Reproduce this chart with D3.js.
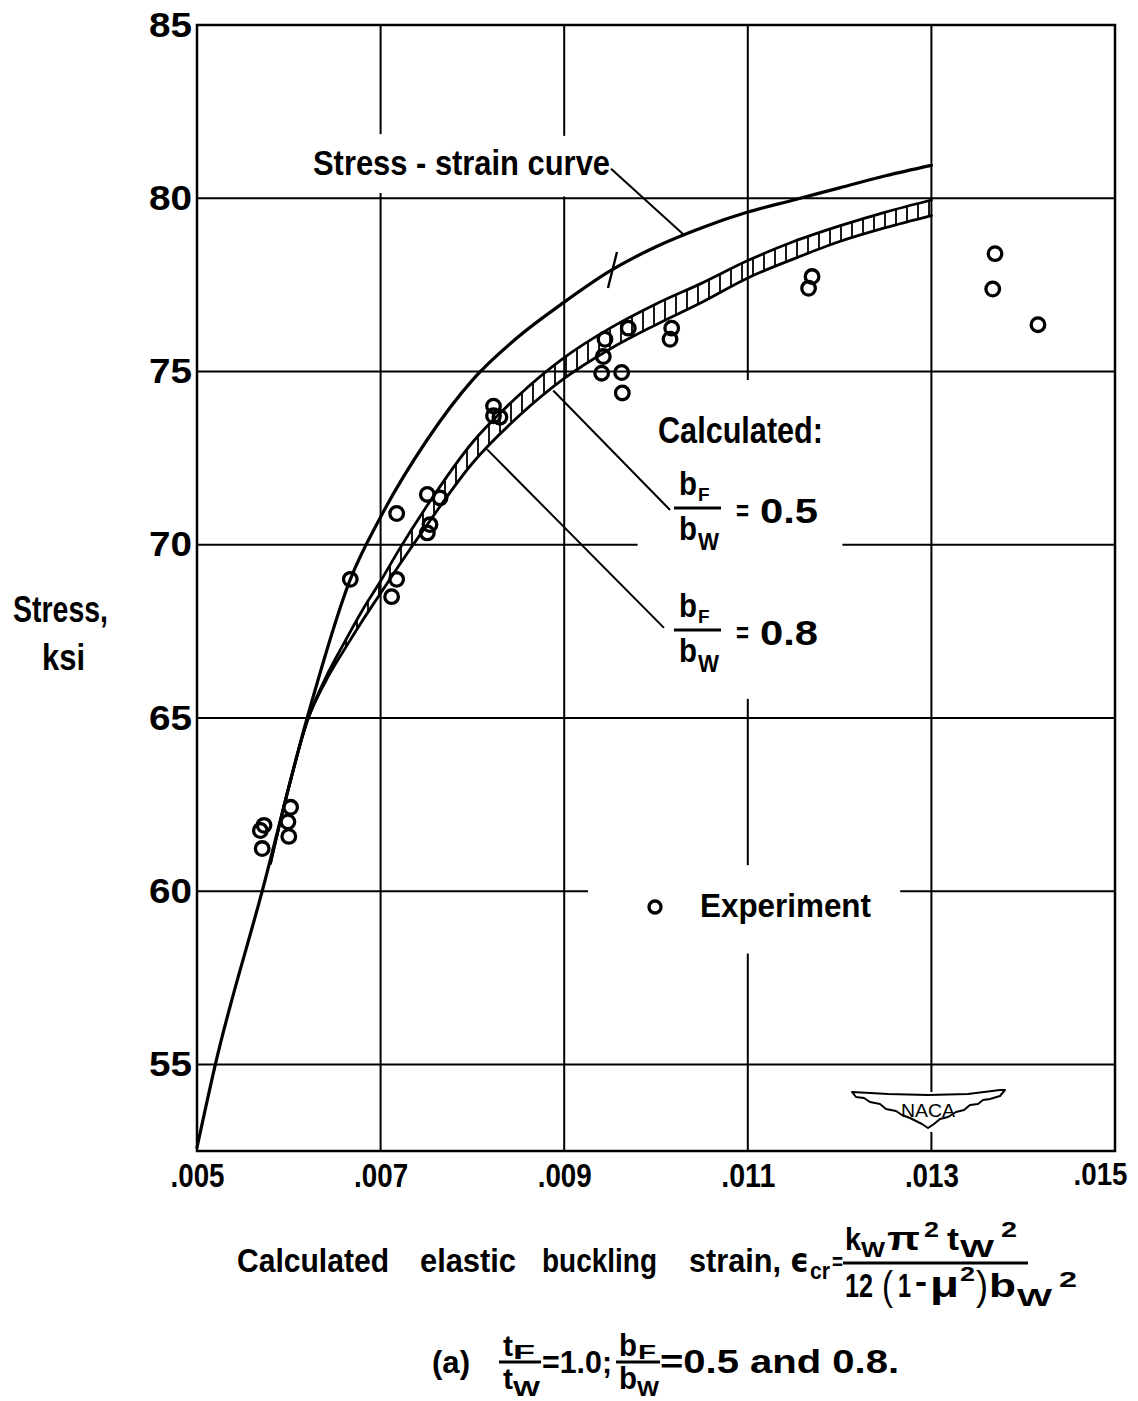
<!DOCTYPE html>
<html>
<head>
<meta charset="utf-8">
<script src="https://cdn.jsdelivr.net/npm/d3@7"></script>
<style>
  body { margin: 0; background: #fff; }
  svg { display: block; font-family: "Liberation Sans", Arial, sans-serif; }
</style>
</head>
<body>
<svg id="chart" width="1138" height="1401"></svg>
<script>
// ---- data (strain, stress in ksi) ----
const xTicks = [0.005, 0.007, 0.009, 0.011, 0.013, 0.015];
const xTickLabels = [".005", ".007", ".009", ".011", ".013", ".015"];
const yTicks = [55, 60, 65, 70, 75, 80, 85];

const ssStrain = [0.0050, 0.0052, 0.00571, 0.0062, 0.00667, 0.0070, 0.0075, 0.0080, 0.0085, 0.0090,
                  0.0095, 0.0100, 0.0105, 0.0110, 0.0115, 0.0120, 0.0125, 0.0130];
const ssStress = [52.6, 55.0, 60.0, 65.0, 69.0, 70.8, 73.0, 74.75, 76.0, 77.0,
                  77.9, 78.6, 79.15, 79.6, 79.95, 80.3, 80.65, 80.95];

// calculated curves, bF/bW = 0.5 and 0.8 (hatched band between them)
const calcStrain = [0.0058, 0.0060, 0.0062, 0.0064, 0.0066, 0.0068, 0.0070, 0.0072, 0.0075, 0.0080,
                    0.0085, 0.0090, 0.0095, 0.0100, 0.0105, 0.0110, 0.0115, 0.0120, 0.0125, 0.0130];
const calcUpper = [60.8, 63.0, 64.9, 66.15, 67.15, 68.1, 68.95, 69.85, 71.1, 72.95,
                   74.3, 75.4, 76.25, 76.95, 77.55, 78.2, 78.75, 79.2, 79.6, 79.95];
const calcLower = [60.8, 63.0, 64.9, 66.05, 66.95, 67.8, 68.6, 69.4, 70.55, 72.35,
                   73.7, 74.8, 75.65, 76.35, 77.0, 77.7, 78.25, 78.75, 79.15, 79.5];

const expStrain = [0.00569, 0.00573, 0.00571, 0.00602, 0.00599, 0.00600,
                   0.00667, 0.007175, 0.007175, 0.00712, 0.007509, 0.007647, 0.007538, 0.007509,
                   0.00823, 0.00823, 0.00830,
                   0.009444, 0.009698, 0.009426, 0.009408, 0.009626, 0.009633, 0.010171, 0.010153,
                   0.01170, 0.011662, 0.013693, 0.013668, 0.014161];
const expStress = [61.75, 61.9, 61.23, 62.42, 62.0, 61.58,
                   69.0, 70.9, 69.0, 68.5, 71.45, 71.35, 70.58, 70.34,
                   74.0, 73.72, 73.68,
                   75.93, 76.25, 75.43, 74.95, 74.97, 74.38, 76.25, 75.93,
                   77.74, 77.4, 78.4, 77.38, 76.35];

// annotation anchors (strain, stress)
const ssLeader = [[0.00951, 80.85], [0.0103, 78.95]];
const leader05 = [[0.010153, 71.0], [0.00888, 74.45]];
const leader08 = [[0.010087, 67.6], [0.00816, 72.75]];
const ssTick = [0.009526, 77.93];

// ---- layout ----
const W = 1138, H = 1401;
const margin = {left: 197, right: 23, top: 25, bottom: 250};
const svg = d3.select("#chart");

const x = d3.scaleLinear().domain([0.005, 0.015]).range([margin.left, W - margin.right]);
const y = d3.scaleLinear().domain([52.5, 85]).range([H - margin.bottom, margin.top]);

// grid lines with the gaps left for lettering (in data units)
const vGrid = [
  {v: 0.007, gaps: [[80.15, 81.85]]},
  {v: 0.009, gaps: [[80.05, 81.8]]},
  {v: 0.011, gaps: [[58.2, 60.75], [65.55, 74.75]]},
  {v: 0.013, gaps: [[53.05, 54.2]]}
];
const hGrid = [
  {v: 55, gaps: []},
  {v: 60, gaps: [[0.00926, 0.01266]]},
  {v: 65, gaps: []},
  {v: 70, gaps: [[0.0098, 0.01203]]},
  {v: 75, gaps: []},
  {v: 80, gaps: []}
];

function segments(lo, hi, gaps) {
  const out = [];
  let cur = lo;
  gaps.forEach(g => { out.push([cur, g[0]]); cur = g[1]; });
  out.push([cur, hi]);
  return out;
}

const grid = svg.append("g").attr("stroke", "#000").attr("stroke-width", 2);
vGrid.forEach(l => {
  segments(52.5, 85, l.gaps).forEach(s => {
    grid.append("line").attr("x1", x(l.v)).attr("x2", x(l.v)).attr("y1", y(s[0])).attr("y2", y(s[1]));
  });
});
hGrid.forEach(l => {
  segments(0.005, 0.015, l.gaps).forEach(s => {
    grid.append("line").attr("y1", y(l.v)).attr("y2", y(l.v)).attr("x1", x(s[0])).attr("x2", x(s[1]));
  });
});

// frame
svg.append("rect")
  .attr("x", x(0.005)).attr("y", y(85))
  .attr("width", x(0.015) - x(0.005)).attr("height", y(52.5) - y(85))
  .attr("fill", "none").attr("stroke", "#000").attr("stroke-width", 2.5);

// axes (labels only)
const lastX = xTicks.length - 1;
const xAxis = svg.append("g")
  .attr("transform", `translate(0,${y(52.5)})`)
  .call(d3.axisBottom(x).tickValues(xTicks).tickSize(0).tickPadding(12)
    .tickFormat((d, i) => xTickLabels[i]));
xAxis.select(".domain").remove();
xAxis.selectAll("text")
  .attr("font-size", (d, i) => i === lastX ? 31 : 34)
  .attr("font-weight", "bold").attr("fill", "#000")
  .attr("font-family", "Liberation Sans, Arial, sans-serif")
  .attr("textLength", 54).attr("lengthAdjust", "spacingAndGlyphs")
  .attr("dx", (d, i) => i === lastX ? -15 : 0);

const yAxis = svg.append("g")
  .attr("transform", `translate(${x(0.005)},0)`)
  .call(d3.axisLeft(y).tickValues(yTicks).tickSize(0).tickPadding(5));
yAxis.select(".domain").remove();
yAxis.selectAll("text").attr("font-size", 35).attr("font-weight", "bold").attr("fill", "#000")
  .attr("font-family", "Liberation Sans, Arial, sans-serif")
  .attr("textLength", 43).attr("lengthAdjust", "spacingAndGlyphs");

// hatch pattern for the band
svg.append("defs").append("pattern")
  .attr("id", "hatch").attr("patternUnits", "userSpaceOnUse")
  .attr("width", 11).attr("height", 11)
  .append("line").attr("x1", 5).attr("x2", 5).attr("y1", 0).attr("y2", 11)
  .attr("stroke", "#000").attr("stroke-width", 1.8);

const band = calcStrain.map((e, i) => ({e, up: calcUpper[i], lo: calcLower[i]}));
svg.append("path").datum(band)
  .attr("fill", "url(#hatch)")
  .attr("d", d3.area().curve(d3.curveMonotoneX)
    .x(d => x(d.e)).y0(d => y(d.lo)).y1(d => y(d.up)));

const line = d3.line().curve(d3.curveMonotoneX).x(d => x(d[0])).y(d => y(d[1]));
const curves = svg.append("g").attr("fill", "none").attr("stroke", "#000").attr("stroke-linecap", "round");
curves.append("path").attr("d", line(ssStrain.map((e, i) => [e, ssStress[i]]))).attr("stroke-width", 3.2);
curves.append("path").attr("d", line(calcStrain.map((e, i) => [e, calcUpper[i]]))).attr("stroke-width", 2.8);
curves.append("path").attr("d", line(calcStrain.map((e, i) => [e, calcLower[i]]))).attr("stroke-width", 2.8);

// leaders and the small tick on the stress-strain curve
const leaders = svg.append("g").attr("stroke", "#000").attr("stroke-width", 2);
[ssLeader, leader05, leader08].forEach(l => {
  leaders.append("line")
    .attr("x1", x(l[0][0])).attr("y1", y(l[0][1]))
    .attr("x2", x(l[1][0])).attr("y2", y(l[1][1]));
});
leaders.append("line")
  .attr("x1", x(ssTick[0]) - 4.5).attr("y1", y(ssTick[1]) + 18)
  .attr("x2", x(ssTick[0]) + 4.5).attr("y2", y(ssTick[1]) - 18)
  .attr("stroke-width", 2.4);

// experiment points
svg.append("g").selectAll("circle")
  .data(expStrain.map((e, i) => [e, expStress[i]]))
  .join("circle")
  .attr("cx", d => x(d[0])).attr("cy", d => y(d[1]))
  .attr("r", 6.8)
  .attr("fill", "none").attr("stroke", "#000").attr("stroke-width", 3.3);

// ---- lettering ----
function txt(str, px, py, size, opt = {}) {
  const t = svg.append("text")
    .attr("x", px).attr("y", py)
    .attr("font-size", size)
    .attr("font-weight", opt.weight || "bold")
    .attr("text-anchor", opt.anchor || "start")
    .text(str);
  if (opt.len) t.attr("textLength", opt.len).attr("lengthAdjust", "spacingAndGlyphs");
  if (opt.family) t.attr("font-family", opt.family);
  return t;
}
function rule(x1, x2, yy, w = 3) {
  svg.append("line").attr("x1", x1).attr("x2", x2).attr("y1", yy).attr("y2", yy)
    .attr("stroke", "#000").attr("stroke-width", w);
}

txt("Stress - strain curve", 313, 175, 35, {len: 297});
txt("Calculated:", 658, 443, 36, {len: 165});

// bF/bW labels
[[0, "0.5"], [122, "0.8"]].forEach(([dy, val]) => {
  txt("b", 679, 495 + dy, 34, {len: 18});
  txt("F", 698, 501 + dy, 19);
  rule(674, 721, 508 + dy);
  txt("b", 679, 540 + dy, 33, {len: 18});
  txt("W", 698, 550 + dy, 24, {len: 21});
  txt("=", 736, 521 + dy, 30, {len: 13});
  txt(val, 760, 523 + dy, 35, {len: 58});
});

// legend
svg.append("circle").attr("cx", 655).attr("cy", 907).attr("r", 6)
  .attr("fill", "none").attr("stroke", "#000").attr("stroke-width", 3.3);
txt("Experiment", 700, 917, 34, {len: 171});

// y title
txt("Stress,", 13, 622, 36, {len: 95});
txt("ksi", 42, 670, 36, {len: 43});

// x title
txt("Calculated", 237, 1272, 34, {len: 152});
txt("elastic", 420, 1272, 34, {len: 96});
txt("buckling", 542, 1272, 34, {len: 115});
txt("strain,", 689, 1272, 34, {len: 92});
txt("\u03f5", 790, 1272, 34, {family: "DejaVu Sans", len: 19});
txt("cr", 810, 1279, 24, {len: 20});
txt("=", 832, 1270, 24, {len: 11});
// numerator
txt("k", 845, 1250, 32, {len: 16});
txt("W", 861, 1257, 22, {len: 24});
txt("\u03c0", 887, 1250, 34, {len: 33});
txt("2", 924, 1237, 22, {len: 15});
txt("t", 947, 1250, 32, {len: 12});
txt("W", 960, 1257, 24, {len: 34});
txt("2", 1001, 1237, 22, {len: 16});
rule(843, 1028, 1263);
// denominator
txt("12", 845, 1297, 34, {len: 28});
txt("(", 882, 1300, 40, {weight: "normal", len: 11});
txt("1", 898, 1297, 34, {len: 13});
txt("-", 915, 1293, 34, {len: 12});
txt("\u03bc", 930, 1297, 36, {len: 29});
txt("2", 960, 1281, 20, {len: 15});
txt(")", 976, 1300, 40, {weight: "normal", len: 12});
txt("b", 989, 1297, 34, {len: 27});
txt("W", 1017, 1306, 24, {len: 35});
txt("2", 1059, 1287, 22, {len: 18});

// sub-caption
txt("(a)", 432, 1373, 32, {len: 38});
txt("t", 503, 1356, 30, {len: 10});
txt("F", 513, 1359, 20, {len: 22});
rule(499, 541, 1362);
txt("t", 503, 1389, 30, {len: 10});
txt("W", 513, 1396, 22, {len: 27});
txt("=1.0;", 542, 1373, 32, {len: 70});
txt("b", 619, 1356, 32, {len: 18});
txt("F", 638, 1359, 20, {len: 18});
rule(616, 660, 1362);
txt("b", 619, 1389, 32, {len: 18});
txt("W", 637, 1396, 22, {len: 22});
txt("=0.5  and  0.8.", 660, 1373, 34, {len: 239});

// NACA wing mark
const logoPts = [[-76,-1],[-40,1],[0,2],[40,1],[72,-3],[77,-3],[72,3],[62,6],[55,7],[50,11],[42,12],[36,17],
  [28,19],[20,24],[12,26],[6,31],[0,35],[-6,31],[-12,28],[-18,25],[-26,22],[-32,18],[-42,16],[-48,11],
  [-58,9],[-64,5],[-72,4]];
const logo = svg.append("g").attr("transform", "translate(928,1093)");
logo.append("path")
  .attr("d", "M" + logoPts.map(p => p.join(",")).join("L") + "Z")
  .attr("fill", "#fff").attr("stroke", "#000").attr("stroke-width", 2).attr("stroke-linejoin", "round");
logo.append("text").attr("x", 0).attr("y", 24).attr("text-anchor", "middle")
  .attr("font-size", 19).attr("textLength", 54).attr("lengthAdjust", "spacingAndGlyphs").text("NACA");
</script>
</body>
</html>
